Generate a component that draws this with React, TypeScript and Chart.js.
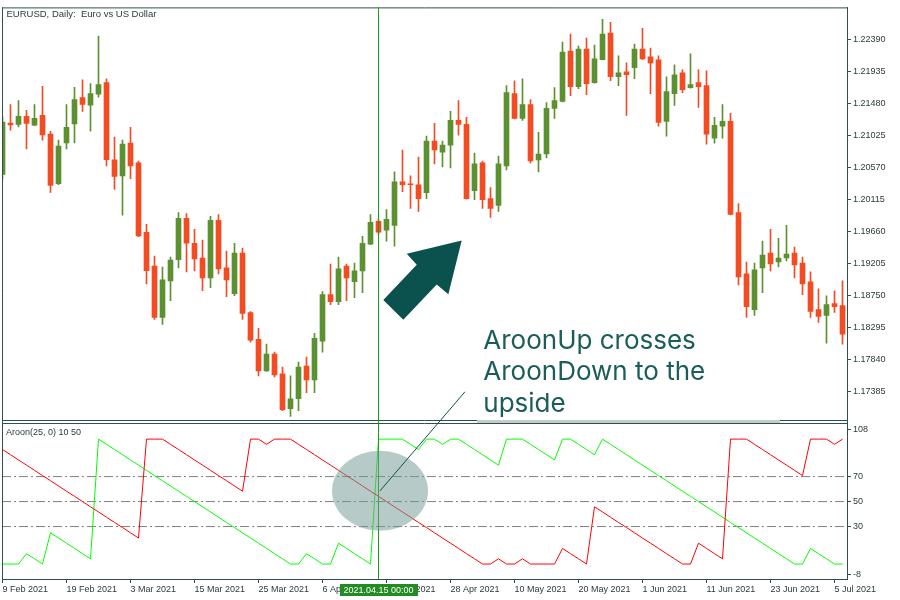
import React, { useEffect, useRef } from 'react';
import { Chart, registerables } from 'chart.js';

Chart.register(...registerables);

// ---------- data ----------
const TICK_LABELS = [
  '9 Feb 2021', '19 Feb 2021', '3 Mar 2021', '15 Mar 2021', '25 Mar 2021', '6 Apr 2021', '16 Apr 2021',
  '28 Apr 2021', '10 May 2021', '20 May 2021', '1 Jun 2021', '11 Jun 2021', '23 Jun 2021', '5 Jul 2021',
];

const OPEN = [
  1.20467, 1.212, 1.21182, 1.21295, 1.21168, 1.21309, 1.21041, 1.20336, 1.20918, 1.21186,
  1.21563, 1.21454, 1.21609, 1.21774, 1.20675, 1.20449, 1.20914, 1.20632, 1.19646, 1.19166,
  1.18433, 1.18955, 1.19255, 1.19843, 1.1949, 1.19279, 1.18997, 1.19815, 1.19138, 1.18772,
  1.1935, 1.18504, 1.18123, 1.17672, 1.17912, 1.1763, 1.17136, 1.17277, 1.17743, 1.17545,
  1.18095, 1.18758, 1.18659, 1.19166, 1.18941, 1.19096, 1.19476, 1.19801, 1.19674, 1.19744,
  1.20364, 1.20336, 1.20322, 1.20209, 1.20942, 1.20787, 1.20886, 1.21238, 1.21182, 1.20238,
  1.20632, 1.20125, 1.20026, 1.2059, 1.21619, 1.21267, 1.21464, 1.20675, 1.20759, 1.21408,
  1.21506, 1.22225, 1.21718, 1.22253, 1.21774, 1.22102, 1.22479, 1.21859, 1.21929, 1.21986,
  1.22253, 1.22141, 1.22098, 1.21224, 1.21619, 1.21915, 1.21704, 1.21774, 1.21732, 1.20985,
  1.21154, 1.21224, 1.19927, 1.19054, 1.18546, 1.19138, 1.1935, 1.19223, 1.19279, 1.1935,
  1.19209, 1.18941, 1.18546, 1.18461, 1.18631, 1.18602,
];
const HIGH = [
  1.21295, 1.21464, 1.2152, 1.21379, 1.21464, 1.21722, 1.21083, 1.20956, 1.21464, 1.21708,
  1.21816, 1.2176, 1.22437, 1.2183, 1.20999, 1.20956, 1.2114, 1.2066, 1.19758, 1.19307,
  1.19152, 1.19293, 1.19927, 1.19913, 1.19688, 1.19533, 1.19871, 1.19899, 1.19378, 1.1949,
  1.1942, 1.18518, 1.18278, 1.18053, 1.1794, 1.17729, 1.17602, 1.17799, 1.17869, 1.18208,
  1.188, 1.19194, 1.19293, 1.19194, 1.19209, 1.19589, 1.19899, 1.19829, 1.1997, 1.20505,
  1.20815, 1.20449, 1.20717, 1.21013, 1.21196, 1.20942, 1.21365, 1.2152, 1.21281, 1.20773,
  1.2066, 1.2028, 1.20731, 1.21732, 1.21802, 1.2183, 1.21534, 1.21069, 1.21492, 1.21704,
  1.22352, 1.22465, 1.22296, 1.22408, 1.2231, 1.22676, 1.22634, 1.22155, 1.22056, 1.22324,
  1.22549, 1.22267, 1.22155, 1.21859, 1.22028, 1.21957, 1.22183, 1.21957, 1.21943, 1.21281,
  1.21464, 1.21337, 1.20054, 1.19223, 1.19209, 1.19519, 1.19688, 1.19561, 1.19744, 1.19434,
  1.19293, 1.19082, 1.18842, 1.18743, 1.18814, 1.18955,
];
const LOW = [
  1.20407, 1.21097, 1.21144, 1.2083, 1.21161, 1.20956, 1.20214, 1.20322, 1.2083, 1.20918,
  1.21365, 1.21083, 1.21567, 1.2059, 1.20256, 1.19889, 1.20407, 1.19582, 1.18912, 1.18405,
  1.18335, 1.18673, 1.19138, 1.19082, 1.19096, 1.18814, 1.18856, 1.19054, 1.18729, 1.18743,
  1.18405, 1.18081, 1.17602, 1.17665, 1.17588, 1.17108, 1.17024, 1.17108, 1.17362, 1.17362,
  1.1794, 1.18617, 1.18617, 1.18673, 1.18715, 1.18786, 1.19469, 1.19617, 1.19519, 1.19448,
  1.20224, 1.19984, 1.19942, 1.20125, 1.20618, 1.20576, 1.20562, 1.21027, 1.20118, 1.20111,
  1.19984, 1.19857, 1.19942, 1.20534, 1.2126, 1.21238, 1.20632, 1.20505, 1.20703, 1.21267,
  1.21499, 1.21591, 1.21689, 1.21605, 1.21767, 1.22098, 1.21802, 1.21732, 1.21309, 1.2183,
  1.22105, 1.21619, 1.21154, 1.21013, 1.2145, 1.21633, 1.21697, 1.21422, 1.209, 1.20914,
  1.20985, 1.19892, 1.18898, 1.18433, 1.18461, 1.18786, 1.19096, 1.19152, 1.19237, 1.18997,
  1.18758, 1.18433, 1.18363, 1.18067, 1.18504, 1.18053,
];
const CLOSE = [
  1.21214, 1.21172, 1.21295, 1.21196, 1.21267, 1.21031, 1.20312, 1.20872, 1.2114, 1.21534,
  1.21464, 1.21619, 1.21746, 1.20679, 1.20439, 1.209, 1.2059, 1.19593, 1.191, 1.18433,
  1.18969, 1.19251, 1.19843, 1.1949, 1.19265, 1.18997, 1.19815, 1.19124, 1.18969, 1.1935,
  1.1849, 1.18109, 1.17672, 1.17912, 1.17616, 1.17122, 1.17277, 1.17729, 1.17545, 1.18137,
  1.18758, 1.18659, 1.19124, 1.18997, 1.19096, 1.1949, 1.19786, 1.19646, 1.19829, 1.20364,
  1.20322, 1.20322, 1.20125, 1.20942, 1.20816, 1.20886, 1.21238, 1.21182, 1.20125, 1.20618,
  1.20111, 1.19984, 1.20618, 1.21633, 1.21267, 1.21464, 1.2066, 1.20759, 1.21408, 1.2152,
  1.22211, 1.21718, 1.22253, 1.2176, 1.22112, 1.22465, 1.21859, 1.21915, 1.21887, 1.22253,
  1.22112, 1.22056, 1.2121, 1.21647, 1.21887, 1.21675, 1.21746, 1.21718, 1.21041, 1.21168,
  1.21224, 1.19899, 1.19011, 1.18588, 1.1911, 1.19321, 1.19194, 1.19279, 1.19335, 1.1918,
  1.18912, 1.18518, 1.18447, 1.18617, 1.18588, 1.18194,
];

const AROON_UP = [
  0, 0, 0, 8.3, 4.2, 0, 25, 20.8, 16.7, 12.5, 8.3, 4.2, 100,
  95.8, 91.7, 87.5, 83.3, 79.2, 75, 70.8, 66.7, 62.5, 58.3, 54.2, 50, 45.8, 41.7, 37.5, 33.3, 29.2, 25, 20.8, 16.7, 12.5, 8.3, 4.2, 0,
  0, 8.3, 4.2, 0, 0, 16.7, 12.5, 8.3, 4.2, 0,
  100, 100, 100, 100, 95.8, 91.7, 100, 100, 95.8, 100,
  100, 95.8, 91.7, 87.5, 83.3, 79.2,
  100, 100, 100, 95.8, 91.7, 87.5, 83.3,
  100, 100, 95.8, 91.7, 87.5,
  100, 95.8, 91.7, 87.5, 83.3, 79.2, 75, 70.8, 66.7, 62.5, 58.3, 54.2, 50, 45.8, 41.7, 37.5, 33.3, 29.2, 25, 20.8, 16.7, 12.5, 8.3, 4.2, 0,
  0, 12.5, 8.3, 4.2, 0, 0,
];
const AROON_DOWN = [
  91.7, 87.5, 83.3, 79.2, 75, 70.8, 66.7, 62.5, 58.3, 54.2, 50, 45.8, 41.7, 37.5, 33.3, 29.2, 25, 20.8,
  100, 100, 100, 95.8, 91.7, 87.5, 83.3, 79.2, 75, 70.8, 66.7, 62.5, 58.3,
  100, 100, 95.8, 100, 100, 100,
  95.8, 91.7, 87.5, 83.3, 79.2, 75, 70.8, 66.7, 62.5, 58.3, 54.2, 50, 45.8, 41.7, 37.5, 33.3, 29.2, 25, 20.8, 16.7, 12.5, 8.3, 4.2, 0,
  0, 4.2, 0, 0, 4.2, 0, 0, 0, 0, 12.5, 8.3, 4.2, 0,
  45.8, 41.7, 37.5, 33.3, 29.2, 25, 20.8, 16.7, 12.5, 8.3, 4.2, 0, 0,
  16.7, 12.5, 8.3, 4.2,
  100, 100, 100, 95.8, 91.7, 87.5, 83.3, 79.2, 75, 70.8,
  100, 100, 100, 95.8, 100,
];

const PRICE_TICKS = [1.17385, 1.1784, 1.18295, 1.1875, 1.19205, 1.1966, 1.20115, 1.2057, 1.21025, 1.2148, 1.21935, 1.2239];
const AROON_TICKS = [108, 70, 50, 30, -8];
const AROON_LEVELS = [70, 50, 30];

const TITLE = 'EURUSD, Daily:  Euro vs US Dollar';
const IND_TITLE = 'Aroon(25, 0) 10 50';
const CROSS_INDEX = 47;
const CROSS_LABEL = '2021.04.15 00:00';
const NOTE_LINES = ['AroonUp crosses', 'AroonDown to the', 'upside'];

// annotation anchors in data units: [bar index, price]
const ARROW = [
  [57.4, 1.19529], [50.53, 1.1934], [51.78, 1.19185], [47.6, 1.18683],
  [50.1, 1.18401], [54.28, 1.18903], [55.73, 1.18762],
];
const NOTE_ANCHOR = [60.1, 1.17985];
const LINK_END = [57.81, 1.17376];
const CIRCLE_ANCHOR = [47.19, 58.6]; // [bar index, aroon value]
const BAR_SPAN = [59.31, 97.19];

// ---------- styles ----------
const FRAME = '#2f4f4f';
const TEXT = '#2a3c3b';
const UP = '#5b9131';
const DOWN = '#f44b22';
const X_MIN = -0.0625;
const X_MAX = 105.5625;
const FONT = 'Liberation Sans, Arial, sans-serif';

const overlay = {
  id: 'overlay',
  afterDatasetsDraw(chart: any) {
    const { ctx, chartArea, scales } = chart;
    const x = scales.x;
    const y = scales.y;
    const y2 = scales.y2;
    const L = chartArea.left;
    const R = chartArea.right;
    ctx.save();

    // pane separator
    const sep = Math.round(y.bottom);
    ctx.fillStyle = '#ffffff';
    ctx.fillRect(L, sep - 1, R - L, 3);
    ctx.strokeStyle = FRAME;
    ctx.lineWidth = 1;
    ctx.beginPath();
    ctx.moveTo(L, sep - 1.5); ctx.lineTo(R, sep - 1.5);
    ctx.moveTo(L, sep + 1.5); ctx.lineTo(R, sep + 1.5);
    ctx.moveTo(L, chartArea.top + 0.5); ctx.lineTo(R, chartArea.top + 0.5);
    ctx.moveTo(L + 0.5, chartArea.top); ctx.lineTo(L + 0.5, chartArea.bottom);
    ctx.stroke();

    // crosshair
    const cx = Math.floor(x.getPixelForValue(CROSS_INDEX)) + 0.5;
    ctx.strokeStyle = '#1c9a1c';
    ctx.beginPath();
    ctx.moveTo(cx, chartArea.top); ctx.lineTo(cx, chartArea.bottom);
    ctx.stroke();

    // ellipse
    const ex = x.getPixelForValue(CIRCLE_ANCHOR[0]);
    const ey = y2.getPixelForValue(CIRCLE_ANCHOR[1]);
    ctx.fillStyle = 'rgba(115,155,150,0.52)';
    ctx.beginPath();
    ctx.ellipse(ex, ey, 48, 40, 0, 0, Math.PI * 2);
    ctx.fill();

    // connector
    ctx.strokeStyle = '#0d4f4b';
    ctx.beginPath();
    ctx.moveTo(ex, ey);
    ctx.lineTo(x.getPixelForValue(LINK_END[0]), y.getPixelForValue(LINK_END[1]));
    ctx.stroke();

    // arrow
    ctx.fillStyle = '#0b524e';
    ctx.beginPath();
    ARROW.forEach(([i, p], k) => {
      const px = x.getPixelForValue(i);
      const py = y.getPixelForValue(p);
      if (k === 0) ctx.moveTo(px, py); else ctx.lineTo(px, py);
    });
    ctx.closePath();
    ctx.fill();

    // note text
    ctx.fillStyle = '#1b5d58';
    ctx.font = '26px Inter, Roboto, sans-serif';
    ctx.textBaseline = 'alphabetic';
    ctx.textAlign = 'left';
    const nx = x.getPixelForValue(NOTE_ANCHOR[0]);
    const ny = y.getPixelForValue(NOTE_ANCHOR[1]);
    NOTE_LINES.forEach((t, k) => ctx.fillText(t, nx, ny + k * 31.5));

    // gray bar under the note
    const b0 = x.getPixelForValue(BAR_SPAN[0]);
    const b1 = x.getPixelForValue(BAR_SPAN[1]);
    ctx.fillStyle = '#c3cccb';
    ctx.fillRect(b0, sep - 2, b1 - b0, 3);

    // titles
    ctx.fillStyle = TEXT;
    ctx.textBaseline = 'top';
    ctx.font = '9.5px ' + FONT;
    ctx.fillText(TITLE, L + 4.5, chartArea.top + 2);
    ctx.font = '9px ' + FONT;
    ctx.fillText(IND_TITLE, L + 4, y2.top + 6.5);
    ctx.restore();
  },
  afterDraw(chart: any) {
    const { ctx, scales } = chart;
    const x = scales.x;
    const cx = x.getPixelForValue(CROSS_INDEX);
    ctx.save();
    ctx.fillStyle = '#238b23';
    ctx.fillRect(Math.round(cx - 39), x.top + 5, 78, 12);
    ctx.fillStyle = '#ffffff';
    ctx.font = '9px ' + FONT;
    ctx.textAlign = 'center';
    ctx.textBaseline = 'middle';
    ctx.fillText(CROSS_LABEL, cx, x.top + 11.5);
    ctx.restore();
  },
};

export default function App() {
  const ref = useRef<HTMLCanvasElement>(null);

  useEffect(() => {
    const canvas = ref.current;
    if (!canvas) return;
    const idx = OPEN.map((_, i) => i);
    const colors = idx.map((i) => (CLOSE[i] >= OPEN[i] ? UP : DOWN));
    const tickFont = { family: FONT, size: 9 };

    const levelSets = AROON_LEVELS.map((lv) => ({
      type: 'line' as const,
      data: [{ x: X_MIN, y: lv }, { x: X_MAX, y: lv }],
      yAxisID: 'y2',
      borderColor: '#808080',
      borderWidth: 1,
      borderDash: [9, 3, 2, 3],
      pointRadius: 0,
      order: 5,
    }));

    const chart = new Chart(canvas, {
      data: {
        datasets: [
          {
            type: 'bar',
            data: idx.map((i) => ({ x: i, y: [OPEN[i], CLOSE[i]] })) as any,
            yAxisID: 'y',
            backgroundColor: colors,
            borderWidth: 0,
            barThickness: 5,
            minBarLength: 1,
            grouped: false,
            order: 1,
          } as any,
          {
            type: 'bar',
            data: idx.map((i) => ({ x: i, y: [LOW[i], HIGH[i]] })) as any,
            yAxisID: 'y',
            backgroundColor: colors,
            borderWidth: 0,
            barThickness: 1,
            grouped: false,
            order: 2,
          } as any,
          {
            type: 'line',
            data: idx.map((i) => ({ x: i, y: AROON_DOWN[i] })),
            yAxisID: 'y2',
            borderColor: '#ff0000',
            borderWidth: 1,
            pointRadius: 0,
            tension: 0,
            order: 1,
          },
          {
            type: 'line',
            data: idx.map((i) => ({ x: i, y: AROON_UP[i] })),
            yAxisID: 'y2',
            borderColor: '#00ff00',
            borderWidth: 1,
            pointRadius: 0,
            tension: 0,
            order: 1,
          },
          ...levelSets,
        ] as any,
      },
      options: {
        responsive: false,
        animation: false,
        events: [],
        layout: { padding: { top: 2, left: 2, right: 0, bottom: 0 } },
        plugins: { legend: { display: false }, tooltip: { enabled: false } },
        scales: {
          x: {
            type: 'linear',
            position: 'bottom',
            min: X_MIN,
            max: X_MAX,
            offset: false,
            bounds: 'data',
            grid: { drawOnChartArea: false, tickLength: 4, tickColor: FRAME, offset: false },
            border: { color: FRAME },
            ticks: {
              autoSkip: false,
              maxRotation: 0,
              align: 'start',
              padding: 1,
              font: tickFont,
              color: TEXT,
              callback: (v: any) => TICK_LABELS[Math.round(Number(v) / 8)] ?? '',
            },
            afterBuildTicks: (s: any) => {
              s.ticks = TICK_LABELS.map((_, i) => ({ value: i * 8 }));
            },
            afterFit: (s: any) => {
              s.height = 21;
            },
          },
          y: {
            type: 'linear',
            position: 'right',
            stack: 'panes',
            stackWeight: 418.5,
            min: 1.169462,
            max: 1.228453,
            bounds: 'data',
            grid: { drawOnChartArea: false, tickLength: 4, tickColor: FRAME },
            border: { color: FRAME },
            ticks: {
              padding: 2,
              font: tickFont,
              color: TEXT,
              callback: (v: any) => Number(v).toFixed(5),
            },
            afterBuildTicks: (s: any) => {
              s.ticks = PRICE_TICKS.map((v) => ({ value: v }));
            },
            afterFit: (s: any) => {
              s.width = 53;
            },
          },
          y2: {
            type: 'linear',
            position: 'right',
            stack: 'panes',
            stackWeight: 158.5,
            min: -11.98,
            max: 113.71,
            bounds: 'data',
            grid: { drawOnChartArea: false, tickLength: 4, tickColor: FRAME },
            border: { color: FRAME },
            ticks: {
              padding: 2,
              font: tickFont,
              color: TEXT,
              callback: (v: any) => String(v),
            },
            afterBuildTicks: (s: any) => {
              s.ticks = AROON_TICKS.map((v) => ({ value: v }));
            },
            afterFit: (s: any) => {
              s.width = 53;
            },
          },
        },
      } as any,
      plugins: [overlay],
    });
    return () => chart.destroy();
  }, []);

  return (
    <div style={{ position: 'fixed', left: 0, top: 0, width: 900, height: 600, background: '#ffffff' }}>
      <canvas ref={ref} width={900} height={600} style={{ width: 900, height: 600, display: 'block' }} />
    </div>
  );
}
